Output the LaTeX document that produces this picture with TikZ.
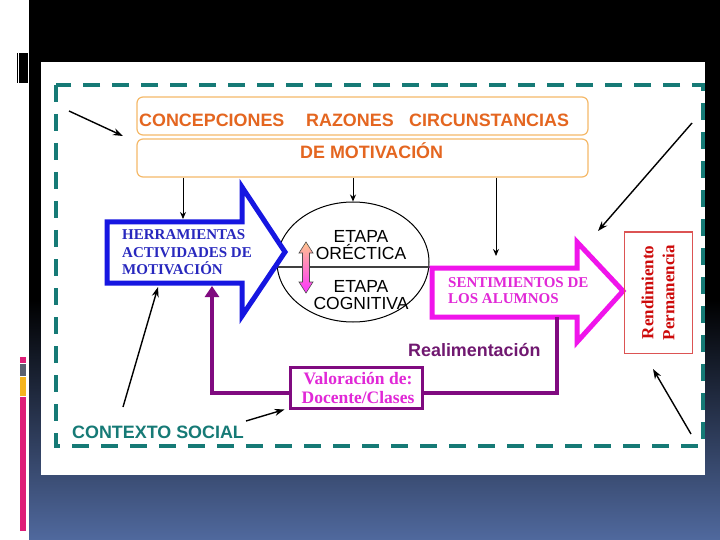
\documentclass[tikz,border=0pt]{standalone}
\usepackage{fontspec}
\setmainfont{Liberation Sans}
\newfontfamily\timesfont{Liberation Serif}
\usepackage{tikz}
\usetikzlibrary{arrows.meta, positioning, shapes.geometric}
\definecolor{slideblue}{RGB}{80,105,158}
\definecolor{frameteal}{RGB}{22,122,118}
\definecolor{boxorange}{RGB}{245,185,105}
\definecolor{textorange}{RGB}{228,102,32}
\definecolor{toolblue}{RGB}{22,22,225}
\definecolor{tooltext}{RGB}{40,40,190}
\definecolor{feelpink}{RGB}{240,20,235}
\definecolor{feeltext}{RGB}{225,40,215}
\definecolor{loopviolet}{RGB}{128,10,128}
\definecolor{looptext}{RGB}{112,24,112}
\definecolor{resultred}{RGB}{205,10,10}
\definecolor{stripepink}{RGB}{222,30,120}
\definecolor{stripegrey}{RGB}{90,96,112}
\definecolor{stripeyellow}{RGB}{245,180,30}
\tikzstyle{pointer} = [line width=1.4pt, -{Stealth[length=10pt,width=7pt]}]
\tikzstyle{thinpointer} = [line width=1pt, -{Stealth[length=7pt,width=6pt]}]

\begin{document}
\begin{tikzpicture}[
    x=1pt, y=-1pt,
    topbox/.style={draw=boxorange, line width=1.2pt, rounded corners=6pt,
        minimum width=451pt, minimum height=38pt},
    sanslabel/.style={inner sep=0pt, anchor=base west,
        font=\fontsize{17.9}{20}\selectfont\bfseries},
    seriflabel/.style={inner sep=0pt, anchor=base west,
        font=\timesfont\fontsize{15}{17}\selectfont\bfseries},
    stage/.style={inner sep=0pt, anchor=base,
        font=\fontsize{17.5}{20}\selectfont},
    blockarrow/.style={line width=5pt, fill=white},
    feedback/.style={line width=4pt, draw=loopviolet}
]
% Slide
\useasboundingbox (0,0) rectangle (720,540);
\fill[white] (0,0) rectangle (720,540);
\fill[black] (29,0) rectangle (720,300);
\shade[top color=black, bottom color=slideblue] (29,300) rectangle (720,540);
\fill[black] (18.5,53) rectangle (28,83);
\draw[line width=0.8pt] (17,53) -- (17,83);
\fill[stripepink] (20,357) rectangle (26,363);
\fill[stripegrey] (20,364) rectangle (26,376);
\fill[stripeyellow] (20,377) rectangle (26,396);
\fill[stripepink] (20,397) rectangle (26,531);
\fill[white] (41,62) rectangle (705,475);

% Frame
\draw[frameteal, line width=4pt, dash pattern=on 17pt off 12pt] (56,85) rectangle (703,446);
\node[sanslabel, text=frameteal] (contexto) at (72,438) {CONTEXTO SOCIAL};

% Top boxes
\node[topbox] (concep) at (362.5,116) {};
\node[topbox] (motiv) at (362.5,158) {};
\node[sanslabel, text=textorange] (concepTxt) at (139,127) {CONCEPCIONES};
\node[sanslabel, text=textorange] (razonTxt) at (306,127) {RAZONES};
\node[sanslabel, text=textorange] (circTxt) at (409,127) {CIRCUNSTANCIAS};
\node[sanslabel, text=textorange] (motivTxt) at (300,159) {DE MOTIVACIÓN};

% Stages
\node[ellipse, draw, line width=1pt, minimum width=152pt, minimum height=120pt] (etapas) at (353,262) {};
\coordinate (splitL) at (275,267);
\coordinate (splitR) at (432,267);
\draw[black!75, line width=1.2pt] (splitL) -- (splitR);

% Block arrows
\draw[blockarrow, draw=toolblue] (107,222) -- (242,222) -- (242,187) -- (285,252)
    -- (242,316) -- (242,283) -- (107,283) -- cycle;
\draw[blockarrow, draw=feelpink] (432,268) -- (577,268) -- (577,242) -- (623,291)
    -- (577,342) -- (577,317) -- (432,317) -- cycle;
\shade[top color=orange!45, bottom color=magenta!80, draw=black!70, line width=0.6pt]
    (306,242) -- (313,253) -- (309.5,253) -- (309.5,282) -- (313,282) -- (306,293)
    -- (299,282) -- (302.5,282) -- (302.5,253) -- (299,253) -- cycle;

\node[seriflabel, text=tooltext] (herr1) at (122,240) {HERRAMIENTAS};
\node[seriflabel, text=tooltext] (herr2) at ([yshift=-17pt]herr1.base west) {ACTIVIDADES DE};
\node[seriflabel, text=tooltext] (herr3) at ([yshift=-17pt]herr2.base west) {MOTIVACIÓN};
\node[seriflabel, text=feeltext] (sent1) at (448,287) {SENTIMIENTOS DE};
\node[seriflabel, text=feeltext] (sent2) at ([yshift=-16pt]sent1.base west) {LOS ALUMNOS};

\node[stage] (orect1) at (361,243) {ETAPA};
\node[stage] (orect2) at ([yshift=-16pt]orect1.base) {ORÉCTICA};
\node[stage] (cogn1) at (361,292) {ETAPA};
\node[stage] (cogn2) at ([yshift=-17pt]cogn1.base) {COGNITIVA};

% Result
\node[draw=resultred!70, line width=1pt, minimum width=68pt, minimum height=121pt] (result) at (658,292.5) {};
\node[rotate=90, align=center, text=resultred, inner sep=0pt,
    font=\timesfont\fontsize{17}{21}\selectfont\bfseries] (resultTxt) at (result.center) {Rendimiento\\Permanencia};

% Feedback
\coordinate (sentBot) at (557,317);
\coordinate (loopR) at (557,393);
\coordinate (loopL) at (212,393);
\coordinate (herrBot) at (212,286);
\draw[feedback, -{Triangle[length=11pt,width=14pt]}] (sentBot) -- (loopR) -- (loopL) -- (herrBot);
\node[draw=loopviolet, line width=3pt, fill=white, minimum width=132pt, minimum height=41pt] (valor) at (356,387.5) {};
\node[anchor=base, inner sep=0pt, text=feeltext,
    font=\timesfont\fontsize{17.5}{19}\selectfont\bfseries] (valor1) at (358,384) {Valoración de:};
\node[anchor=base, inner sep=0pt, text=feeltext,
    font=\timesfont\fontsize{17.5}{19}\selectfont\bfseries] (valor2) at ([yshift=-19pt]valor1.base) {Docente/Clases};
\node[sanslabel, text=looptext] (realim) at (408,356) {Realimentación};

% Influences
\coordinate (herrTop) at (183,219);
\coordinate (sentTop) at (496,256);
\draw[thinpointer] (motiv.south -| herrTop) -- (herrTop);
\draw[thinpointer] (motiv.south -| etapas.north) -- (etapas.north);
\draw[thinpointer] (motiv.south -| sentTop) -- (sentTop);

\coordinate (nwStart) at (69,111);
\coordinate (nwEnd) at (123,136);
\coordinate (neStart) at (692,123);
\coordinate (neEnd) at (598,231);
\coordinate (seStart) at (691,434);
\coordinate (seEnd) at (653,369);
\coordinate (swStart) at (123,407);
\coordinate (swEnd) at (158,287);
\coordinate (ctxStart) at (246,421);
\draw[pointer] (nwStart) -- (nwEnd);
\draw[pointer] (neStart) -- (neEnd);
\draw[pointer] (seStart) -- (seEnd);
\draw[pointer] (swStart) -- (swEnd);
\draw[pointer] (ctxStart) -- ([xshift=-4pt]valor.south west);
\end{tikzpicture}
\end{document}
